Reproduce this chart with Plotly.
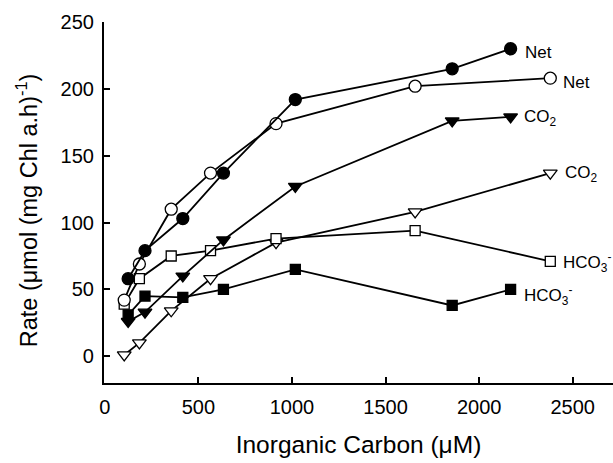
import plotly.graph_objects as go

# Inorganic carbon concentrations (uM)
x_closed = [125, 215, 417, 634, 1018, 1856, 2168]
x_open = [104, 185, 355, 565, 915, 1658, 2380]

# Rates (umol (mg Chl a.h)^-1)
net_closed = [58, 79, 103, 137, 192, 215, 230]
net_open = [42, 69, 110, 137, 174, 202, 208]
co2_closed = [26, 33, 60, 87, 127, 176, 179]
co2_open = [1, 10, 34, 58, 85, 108, 137]
hco3_open = [39, 58, 75, 79, 88, 94, 71]
hco3_closed = [31, 45, 44, 50, 65, 38, 50]

x_ticks = [0, 500, 1000, 1500, 2000, 2500]
y_ticks = [0, 50, 100, 150, 200, 250]

FONT = "Liberation Sans, Arial, sans-serif"

series = [
    # x, y, symbol, fill, size, label, label shifts
    (x_open, co2_open, "triangle-down", "white", 12, "CO<sub>2</sub>", 13, -1),
    (x_open, hco3_open, "square", "white", 10, "HCO<sub>3</sub><sup>-</sup>", 11, -1),
    (x_open, net_open, "circle", "white", 12, "Net", 11, -4),
    (x_closed, hco3_closed, "square", "black", 10, "HCO<sub>3</sub><sup>-</sup>", 11, -6),
    (x_closed, co2_closed, "triangle-down", "black", 12, "CO<sub>2</sub>", 11, -1),
    (x_closed, net_closed, "circle", "black", 12, "Net", 12, -4),
]

fig = go.Figure()
annotations = []
for xs, ys, sym, fill, size, label, xs_shift, ys_shift in series:
    fig.add_trace(go.Scatter(
        x=xs, y=ys, mode="lines+markers",
        line=dict(color="black", width=1.8),
        marker=dict(symbol=sym, size=size, color=fill,
                    line=dict(color="black", width=1.3)),
        showlegend=False, cliponaxis=False, hoverinfo="skip",
    ))
    annotations.append(dict(
        x=xs[-1], y=ys[-1], xref="x", yref="y", text=label,
        showarrow=False, xanchor="left", yanchor="middle",
        xshift=xs_shift, yshift=ys_shift,
        font=dict(family=FONT, size=17, color="black"),
    ))

# y-axis title as a rotated annotation (placed slightly below plot centre as in the original)
annotations.append(dict(
    x=-0.151, y=0.479, xref="paper", yref="paper",
    text="Rate (\u03bcmol (mg Chl a.h)<sup>-1</sup>)",
    textangle=-90, showarrow=False, xanchor="center", yanchor="middle",
    font=dict(family=FONT, size=23.5, color="black"),
))

axis_common = dict(
    showline=True, linecolor="black", linewidth=2.2,
    ticks="inside", ticklen=6, tickwidth=2, tickcolor="black",
    showgrid=False, zeroline=False, mirror=False, automargin=False,
    tickfont=dict(family=FONT, size=20, color="black"),
)

fig.update_layout(
    width=613, height=463,
    margin=dict(l=104, r=0, t=22, b=80, autoexpand=False),
    paper_bgcolor="white", plot_bgcolor="white",
    annotations=annotations,
    xaxis=dict(
        range=[-4, 2715], tickvals=x_ticks, ticktext=[str(v) for v in x_ticks],
        title=dict(text="Inorganic Carbon (\u03bcM)", standoff=19,
                   font=dict(family=FONT, size=24.5, color="black")),
        ticklabelstandoff=5,
        **axis_common,
    ),
    yaxis=dict(
        range=[-20, 250], tickvals=y_ticks, ticktext=[str(v) for v in y_ticks],
        ticklabelstandoff=4,
        **axis_common,
    ),
)

fig.write_html("out.html", config={"displayModeBar": False},
               post_script="document.body.style.margin='0';document.body.style.overflow='hidden';")
